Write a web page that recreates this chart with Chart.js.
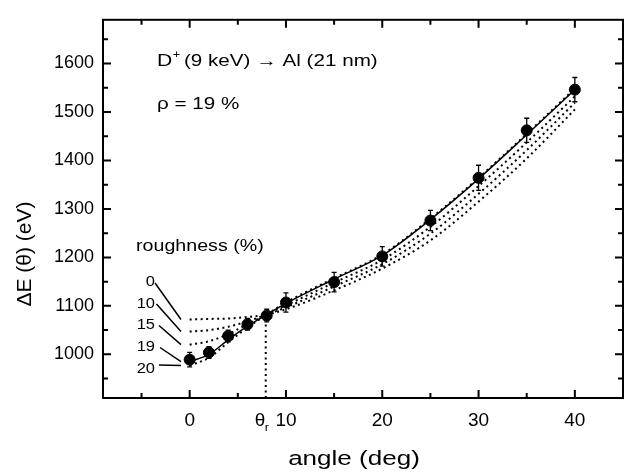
<!DOCTYPE html>
<html>
<head>
<meta charset="utf-8">
<script src="https://cdn.jsdelivr.net/npm/chart.js@4.4.1/dist/chart.umd.min.js"></script>
<style>
  html, body { margin: 0; padding: 0; background: #fff; }
  #wrap { width: 641px; height: 472px; }
</style>
</head>
<body>
<div id="wrap"><canvas id="chart" width="641" height="472"></canvas></div>
<script>
// measured energy loss vs tilt angle
const angles = [0, 2, 4, 6, 8, 10, 15, 20, 25, 30, 35, 40];
const deltaE = [989, 1004, 1038, 1062, 1080, 1107, 1149, 1202, 1276, 1364, 1462, 1546];
const errors = [15, 12, 12, 12, 13, 20, 20, 20, 21, 26, 25, 25];

// model curves for several roughness values (%)
const curveAngles = [0, 2, 4, 6, 8, 10, 15, 20, 25, 30, 35, 40];
const rough0  = [1072, 1073, 1074, 1077, 1082, 1093, 1132, 1177, 1235, 1315, 1404, 1505];
const rough10 = [1047, 1050, 1057, 1068, 1082, 1097, 1140, 1186, 1249, 1331, 1421, 1519];
const rough15 = [1020, 1027, 1042, 1062, 1082, 1101, 1148, 1195, 1263, 1347, 1437, 1532];
const rough19 = [985, 1000, 1030, 1058, 1082, 1105, 1155, 1204, 1278, 1362, 1453, 1546];
const rough20 = [977, 993, 1025, 1055, 1082, 1107, 1157, 1206, 1280, 1364, 1455, 1548];
const roughLabels = ['0', '10', '15', '19', '20'];

// critical angle theta_r
const thetaR = 7.9;
const thetaRdE = 1076;

// axis ticks
const xMajor = [0, 10, 20, 30, 40];
const xMinor = [-5, 5, 15, 25, 35];
const yMajor = [1000, 1100, 1200, 1300, 1400, 1500, 1600];
const yMinor = [950, 1050, 1150, 1250, 1350, 1450, 1550, 1650];

const FONT = '"Liberation Sans", Arial, Helvetica, sans-serif';

function toXY(xs, ys) {
    return xs.map((v, i) => ({ x: v, y: ys[i] }));
}

function curve(ys, dotted) {
    return {
        type: 'line',
        data: toXY(curveAngles, ys),
        borderColor: '#000',
        borderWidth: dotted ? 2 : 1.5,
        borderDash: dotted ? [2, 3.5] : [],
        pointRadius: 0,
        fill: false,
        cubicInterpolationMode: 'monotone'
    };
}

// stretched text, the original figure is wider than tall
function wideText(ctx, str, x, y, size, align, sx) {
    ctx.save();
    ctx.font = size + 'px ' + FONT;
    ctx.translate(x, y);
    ctx.scale(sx, 1);
    ctx.textAlign = align;
    ctx.textBaseline = 'alphabetic';
    ctx.fillText(str, 0, 0);
    ctx.restore();
    ctx.font = size + 'px ' + FONT;
    return ctx.measureText(str).width * sx;
}

// frame + inward ticks on all four sides
const frameTicks = {
    id: 'frameTicks',
    afterDraw(chart) {
        const { ctx, chartArea: a, scales: { x, y } } = chart;
        ctx.save();
        ctx.strokeStyle = '#000';
        ctx.lineWidth = 2;
        ctx.beginPath();
        x.ticks.forEach(t => {
            const px = x.getPixelForValue(t.value);
            const len = t.big ? 8 : 5;
            ctx.moveTo(px, a.bottom); ctx.lineTo(px, a.bottom - len);
            ctx.moveTo(px, a.top); ctx.lineTo(px, a.top + len);
        });
        y.ticks.forEach(t => {
            const py = y.getPixelForValue(t.value);
            const len = t.big ? 8 : 5;
            ctx.moveTo(a.left, py); ctx.lineTo(a.left + len, py);
            ctx.moveTo(a.right, py); ctx.lineTo(a.right - len, py);
        });
        ctx.stroke();
        ctx.strokeRect(a.left, a.top, a.right - a.left, a.bottom - a.top);
        ctx.restore();
    }
};

// error bars for the measured points
const errorBars = {
    id: 'errorBars',
    afterDatasetsDraw(chart) {
        const { ctx, scales: { x, y } } = chart;
        ctx.save();
        ctx.strokeStyle = '#000';
        ctx.lineWidth = 1.3;
        ctx.beginPath();
        angles.forEach((a, i) => {
            const px = x.getPixelForValue(a);
            const top = y.getPixelForValue(deltaE[i] + errors[i]);
            const bot = y.getPixelForValue(deltaE[i] - errors[i]);
            ctx.moveTo(px, top); ctx.lineTo(px, bot);
            ctx.moveTo(px - 2.5, top); ctx.lineTo(px + 2.5, top);
            ctx.moveTo(px - 2.5, bot); ctx.lineTo(px + 2.5, bot);
        });
        ctx.stroke();
        ctx.restore();
    }
};

// texts, roughness labels and leader lines
const annotations = {
    id: 'annotations',
    afterDraw(chart) {
        const { ctx, scales: { x, y } } = chart;
        ctx.save();
        ctx.fillStyle = '#000';

        // title lines
        let cx = 157;
        cx += wideText(ctx, 'D', cx, 65.5, 16.5, 'left', 1.28);
        wideText(ctx, '+', cx + 0.5, 58, 10, 'left', 1.28);
        cx += 6;
        wideText(ctx, ' (9 keV) \u2192 Al (21 nm)', cx, 65.5, 16.5, 'left', 1.25);
        wideText(ctx, '\u03c1 = 19 %', 157, 108.5, 16.5, 'left', 1.25);

        wideText(ctx, 'roughness (%)', 136, 250.5, 16.5, 'left', 1.19);

        // roughness labels with leaders to the curve starts
        const starts = [rough0[0], rough10[0], rough15[0], rough19[0], rough20[0]];
        const baselines = [286, 308, 329, 351, 373];
        const leadFrom = [[155, 283], [156.5, 304], [159, 325.5], [160, 347.5], [159, 365]];
        ctx.strokeStyle = '#000';
        ctx.lineWidth = 1.5;
        ctx.beginPath();
        roughLabels.forEach((lab, i) => {
            wideText(ctx, lab, 155, baselines[i], 15, 'right', 1.1);
            const ex = x.getPixelForValue(-0.9);
            const ey = y.getPixelForValue(starts[i]);
            ctx.moveTo(leadFrom[i][0], leadFrom[i][1]);
            ctx.lineTo(ex, ey);
        });
        ctx.stroke();

        // theta_r tick label
        const tx = x.getPixelForValue(thetaR);
        wideText(ctx, '\u03b8', tx - 0.5, 425.5, 18, 'right', 1.05);
        wideText(ctx, 'r', tx - 1, 431, 11.5, 'left', 1.1);

        // axis titles
        wideText(ctx, 'angle (deg)', 354, 465, 20.5, 'center', 1.27);
        ctx.save();
        ctx.translate(31, 254);
        ctx.rotate(-Math.PI / 2);
        ctx.font = '21px ' + FONT;
        ctx.textAlign = 'center';
        ctx.fillText('\u0394E (\u03b8) (eV)', 0, 0);
        ctx.restore();

        ctx.restore();
    }
};

const ctx = document.getElementById('chart').getContext('2d');
const chart = new Chart(ctx, {
    type: 'scatter',
    data: {
        datasets: [
            {
                type: 'scatter',
                data: toXY(angles, deltaE),
                backgroundColor: '#000',
                borderColor: '#000',
                pointRadius: 5.5,
                pointHoverRadius: 5.5
            },
            curve(rough19, false),
            curve(rough0, true),
            curve(rough10, true),
            curve(rough15, true),
            curve(rough20, true),
            {
                type: 'line',
                data: [{ x: thetaR, y: 910 }, { x: thetaR, y: thetaRdE }],
                borderColor: '#000',
                borderWidth: 2,
                borderDash: [2, 3.5],
                pointRadius: 0
            }
        ]
    },
    options: {
        responsive: false,
        animation: false,
        layout: { padding: { top: 4, right: 18, left: 0, bottom: 0 } },
        plugins: {
            legend: { display: false },
            tooltip: { enabled: false }
        },
        scales: {
            x: {
                type: 'linear',
                min: -9,
                max: 45,
                grid: { display: false, drawTicks: false },
                border: { display: false },
                afterBuildTicks: s => {
                    s.ticks = xMajor.concat(xMinor).sort((a, b) => a - b)
                        .map(v => ({ value: v, big: xMajor.includes(v) }));
                },
                afterFit: s => { s.height = 74; },
                ticks: {
                    padding: 11,
                    color: '#000',
                    font: { family: FONT, size: 19 },
                    maxRotation: 0,
                    autoSkip: false,
                    callback: v => xMajor.includes(v) ? String(v) : ''
                }
            },
            y: {
                type: 'linear',
                min: 910,
                max: 1690,
                grid: { display: false, drawTicks: false },
                border: { display: false },
                afterBuildTicks: s => {
                    s.ticks = yMajor.concat(yMinor).sort((a, b) => a - b)
                        .map(v => ({ value: v, big: yMajor.includes(v) }));
                },
                afterFit: s => { s.width = 103; },
                ticks: {
                    padding: 9,
                    color: '#000',
                    font: { family: FONT, size: 18 },
                    autoSkip: false,
                    callback: v => yMajor.includes(v) ? String(v) : ''
                }
            }
        }
    },
    plugins: [errorBars, frameTicks, annotations]
});
</script>
</body>
</html>
